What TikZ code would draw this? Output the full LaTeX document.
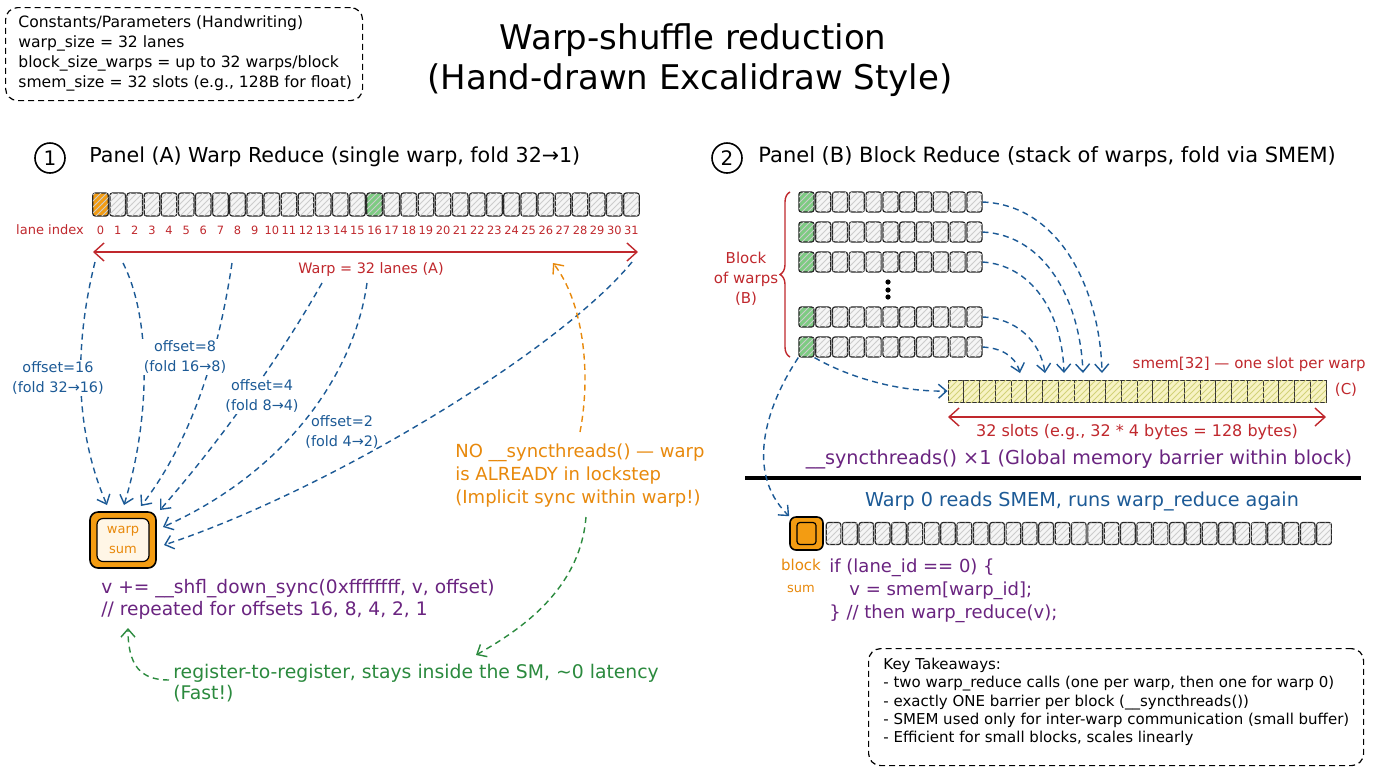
\documentclass[tikz,border=0pt]{standalone}
\usepackage{fontspec}
\setmainfont{DejaVu Sans}
\usetikzlibrary{patterns,arrows.meta,decorations.pathreplacing,calc}
\definecolor{cred}{HTML}{C0282D}
\definecolor{cblue}{HTML}{1C5A96}
\definecolor{corange}{HTML}{E8890C}
\definecolor{cgreen}{HTML}{2B8A3E}
\definecolor{cpurple}{HTML}{6A2480}
\definecolor{cgreenfill}{HTML}{7DCB82}
\definecolor{cyellow}{HTML}{F7F3C4}
\definecolor{corfill}{HTML}{F39C12}
\definecolor{cinner}{HTML}{FFF6E6}
\newcommand\fs[2]{\fontsize{#1}{#2}\selectfont}
\tikzset{
  cell/.style={draw=black!85, line width=0.6pt, rounded corners=1.2pt, fill=black!4,
    postaction={pattern=north east lines, pattern color=black!20},
    minimum width=7.75pt, minimum height=11.5pt, inner sep=0pt},
  gcell/.style={cell, fill=cgreenfill, postaction={}},
  ocell/.style={cell, fill=corfill, postaction={}},
  bcell/.style={cell, minimum width=7.5pt, minimum height=10pt},
  scell/.style={draw=black!80, line width=0.5pt, fill=cyellow,
    postaction={pattern=north east lines, pattern color=olive!35},
    minimum width=7.875pt, minimum height=11pt, inner sep=0pt},
  zcell/.style={cell, minimum width=7.3pt, minimum height=11pt},
  dbox/.style={draw=black, line width=0.6pt, dash pattern=on 3pt off 2pt, rounded corners=6pt, inner sep=0pt},
  bdash/.style={draw=cblue, line width=0.7pt, dash pattern=on 3pt off 2.2pt,
    -{Straight Barb[length=4pt,width=7pt]}},
  odash/.style={bdash, draw=corange},
  gdash/.style={bdash, draw=cgreen},
  redarr/.style={draw=cred, line width=0.7pt, {Straight Barb[length=5pt,width=9pt]}-{Straight Barb[length=5pt,width=9pt]}},
  lab/.style={inner sep=1pt, align=center, fill=white},
  num/.style={text=cred, font=\fs{5.7}{6}, inner sep=0pt},
}
\begin{document}
\begin{tikzpicture}[x=0.5pt,y=-0.5pt]
\useasboundingbox (0,0) rectangle (1376,768);
\fill[white] (0,0) rectangle (1376,768);

% constants box
\node[dbox, anchor=north west, minimum width=178.5pt, minimum height=46.5pt] (constsbox) at (5,7) {};
\node[anchor=west, align=left, font=\fs{7.8}{10}, inner sep=0pt] (consts) at (18,53)
  {Constants/Parameters (Handwriting)\\
   warp\_size = 32 lanes\\
   block\_size\_warps = up to 32 warps/block\\
   smem\_size = 32 slots (e.g., 128B for float)};

% title
\node[font=\fs{17}{20}] (title1) at (693,40) {Warp-shuffle reduction};
\node[font=\fs{17}{20}] (title2) at (690,80) {(Hand-drawn Excalidraw Style)};

% panel headers
\node[draw=black, line width=0.8pt, circle, minimum size=15pt, inner sep=0pt, font=\fs{10}{11}] (c1) at (50,158) {1};
\node[anchor=west, font=\fs{10.3}{11}, inner sep=0pt] (hA) at (89,157) {Panel (A) Warp Reduce (single warp, fold 32→1)};
\node[draw=black, line width=0.8pt, circle, minimum size=15pt, inner sep=0pt, font=\fs{10}{11}] (c2) at (727,158) {2};
\node[anchor=west, font=\fs{10.5}{11}, inner sep=0pt] (hB) at (758,157) {Panel (B) Block Reduce (stack of warps, fold via SMEM)};

% ---------------- Panel A ----------------
\node[ocell] (a0) at (100.56,204.5) {};
\foreach \i in {1,...,31}{
  \ifnum\i=16\relax
    \node[gcell] (a\i) at ({100.56+17.125*\i},204.5) {};
  \else
    \node[cell] (a\i) at ({100.56+17.125*\i},204.5) {};
  \fi
}
\foreach \i in {0,...,31} \node[num] (n\i) at ({100.56+17.125*\i},230) {\i};
\node[text=cred, font=\fs{6.5}{8}, inner sep=0pt] (laneidx) at (50,230) {lane index};

\coordinate (wl) at (93,252);
\coordinate (wr) at (638,252);
\draw[redarr] (wl) -- (wr);
\node[text=cred, font=\fs{7.2}{8}, inner sep=1pt] (wlab) at (371,270) {Warp = 32 lanes (A)};

% warp sum
\node[draw=black, line width=0.8pt, fill=corfill, rounded corners=4pt, minimum width=33pt, minimum height=28pt, inner sep=0pt] (ws) at (123,540) {};
\node[draw=black, line width=0.6pt, fill=cinner, rounded corners=3pt, minimum width=26pt, minimum height=21.5pt, inner sep=0pt,
  text=corange, font=\fs{6.5}{10}, align=center] (wsin) at (ws.center) {warp\\sum};

% shuffle arrows
\coordinate (s1) at (95,262);  \coordinate (e1) at (107,505);
\coordinate (s2) at (123,263); \coordinate (e2) at (124,505);
\coordinate (s3) at (232,263); \coordinate (e3) at (141,506);
\coordinate (s4) at (322,283); \coordinate (e4) at (160,510);
\coordinate (s5) at (367,283); \coordinate (e5) at (163,527);
\coordinate (s6) at (632,262); \coordinate (e6) at (164,545);
\draw[bdash] (s1) .. controls (78,330) and (70,420) .. (e1);
\draw[bdash] (s2) .. controls (152,320) and (150,420) .. (e2);
\draw[bdash] (s3) .. controls (222,330) and (200,430) .. (e3);
\draw[bdash] (s4) .. controls (290,340) and (230,430) .. (e4);
\draw[bdash] (s5) .. controls (355,370) and (290,470) .. (e5);
\draw[bdash] (s6) .. controls (560,350) and (330,490) .. (e6);

\node[lab, text=cblue, font=\fs{7.2}{10}] (l16) at (58,378) {offset=16\\(fold 32→16)};
\node[lab, text=cblue, font=\fs{7.2}{10}] (l8) at (185,357) {offset=8\\(fold 16→8)};
\node[lab, text=cblue, font=\fs{7.2}{10}] (l4) at (262,396) {offset=4\\(fold 8→4)};
\node[lab, text=cblue, font=\fs{7.2}{10}, fill=none] (l2) at (342,432) {offset=2\\(fold 4→2)};

% orange note
\coordinate (os) at (580,432);
\coordinate (oe) at (553,263);
\draw[odash] (os) .. controls (592,370) and (582,300) .. (oe);
\node[anchor=west, align=left, text=corange, font=\fs{9}{11.5}, inner sep=0pt] (onote) at (455,476)
  {NO \_\_syncthreads() — warp\\is ALREADY in lockstep\\(Implicit sync within warp!)};

% code A
\node[anchor=west, align=left, text=cpurple, font=\fs{9.3}{11}, inner sep=0pt] (codeA) at (101,599)
  {v += \_\_shfl\_down\_sync(0xffffffff, v, offset)\\// repeated for offsets 16, 8, 4, 2, 1};

% green note
\node[anchor=west, align=left, text=cgreen, font=\fs{9.4}{10.5}, inner sep=0pt] (gnote) at (173,683)
  {register-to-register, stays inside the SM, \textasciitilde 0 latency\\(Fast!)};
\coordinate (g1s) at (586,517);
\coordinate (g1e) at (476,655);
\draw[gdash] (g1s) .. controls (580,590) and (520,630) .. (g1e);
\coordinate (g2s) at (169,680);
\coordinate (g2e) at (128,628);
\draw[gdash] (g2s) .. controls (140,680) and (128,665) .. (g2e);

% ---------------- Panel B ----------------
\foreach \r/\y in {1/202,2/232,3/262,4/317,5/347}{
  \node[gcell, minimum width=7.5pt, minimum height=10pt] (b\r-0) at (806.4,\y) {};
  \foreach \j in {1,...,10} \node[bcell] (b\r-\j) at ({806.4+16.8*\j},\y) {};
}
\foreach \k/\y in {1/282,2/290,3/297} \fill[black] (888,\y) circle (1.3pt) coordinate (dot\k);

\draw[cred, line width=0.7pt, decorate, decoration={brace, amplitude=5pt}] (790,357) -- (790,192);
\node[text=cred, font=\fs{7.5}{10}, align=center, inner sep=0pt] (blk) at (746,279) {Block\\of warps\\(B)};

% smem
\foreach \j in {0,...,23} \node[scell] (m\j) at ({955.9+15.75*\j},391) {};
\node[text=cred, font=\fs{7.5}{9}, anchor=east, inner sep=0pt] (smlab) at (1366,364) {smem[32] — one slot per warp};
\node[text=cred, font=\fs{7.5}{9}, inner sep=0pt] (clab) at (1346,390) {(C)};
\coordinate (ml) at (948,417);
\coordinate (mr) at (1326,417);
\draw[redarr] (ml) -- (mr);
\node[text=cred, font=\fs{8}{9}, inner sep=0pt] (mlab) at (1137,432) {32 slots (e.g., 32 * 4 bytes = 128 bytes)};

% rows to smem
\draw[bdash] (b1-10.east) .. controls (1060,205) and (1100,290) .. (1102,373);
\draw[bdash] (b2-10.east) .. controls (1045,235) and (1080,300) .. (1083,373);
\draw[bdash] (b3-10.east) .. controls (1030,265) and (1062,310) .. (1064,373);
\draw[bdash] (b4-10.east) .. controls (1015,318) and (1040,340) .. (1045,373);
\draw[bdash] (b5-10.east) .. controls (1000,348) and (1015,355) .. (1020,373);
\draw[bdash] (b5-0.south east) .. controls (850,378) and (900,392) .. (m0.west);

% sync + divider
\node[text=cpurple, font=\fs{9.6}{10}, inner sep=0pt] (sync) at (1079,459) {\_\_syncthreads() ×1 (Global memory barrier within block)};
\coordinate (hl) at (745,478);
\coordinate (hr) at (1361,478);
\draw[black, line width=2pt] (hl) -- (hr);
\node[text=cblue, font=\fs{9.6}{10}, inner sep=0pt] (w0lab) at (1082,501) {Warp 0 reads SMEM, runs warp\_reduce again};

% warp 0 row
\node[draw=black, line width=0.8pt, fill=corfill, rounded corners=3pt, minimum width=16.5pt, minimum height=16.5pt, inner sep=0pt] (z0) at (806.5,533.5) {};
\node[draw=black, line width=0.6pt, fill=corfill, rounded corners=1.5pt, minimum width=9.5pt, minimum height=11pt, inner sep=0pt] (z0in) at (z0.center) {};
\foreach \j in {1,...,31} \node[zcell] (z\j) at ({817.2+16.35*\j},533.5) {};
\draw[bdash] (b5-0.south west) .. controls (770,400) and (742,470) .. (z0.north west);

\node[text=corange, font=\fs{7.5}{11}, align=center, inner sep=0pt] (bsum) at (801,576) {block\\{\fs{6.5}{8}sum}};
\node[anchor=north west, align=left, text=cpurple, font=\fs{9}{11.5}, inner sep=0pt] (codeB) at (829,558)
  {if (lane\_id == 0) \{\\\hspace*{10pt}v = smem[warp\_id];\\\} // then warp\_reduce(v);};

% key takeaways
\node[dbox, anchor=north west, minimum width=247.5pt, minimum height=58.5pt] (keysbox) at (868,648) {};
\node[anchor=west, align=left, font=\fs{7.5}{9.2}, inner sep=0pt] (keys) at (883,702)
  {Key Takeaways:\\
   - two warp\_reduce calls (one per warp, then one for warp 0)\\
   - exactly ONE barrier per block (\_\_syncthreads())\\
   - SMEM used only for inter-warp communication (small buffer)\\
   - Efficient for small blocks, scales linearly};
\end{tikzpicture}
\end{document}
